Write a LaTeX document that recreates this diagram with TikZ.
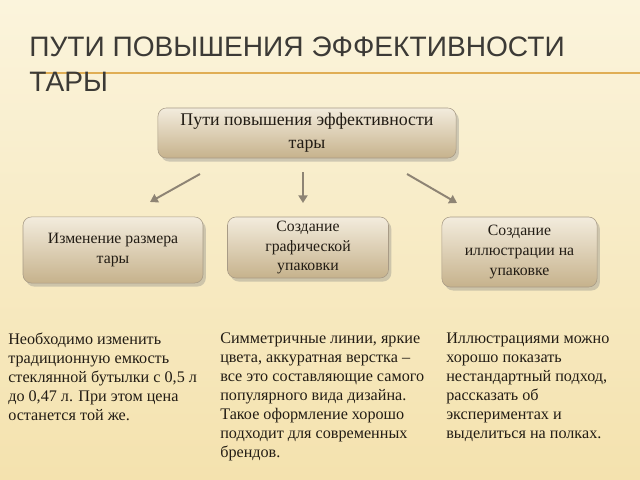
\documentclass[tikz,border=0pt]{standalone}
\usepackage{fontspec}
\setmainfont{Liberation Serif}
\newfontfamily\titlefont{Liberation Sans}
\usetikzlibrary{shadows,arrows.meta}
\definecolor{bgtop}{HTML}{FBF4DC}
\definecolor{bgbot}{HTML}{F4E2AE}
\definecolor{rule}{HTML}{E0AE55}
\definecolor{boxtop}{HTML}{F3ECDD}
\definecolor{boxbot}{HTML}{C6B28C}
\definecolor{boxline}{HTML}{A89B86}
\definecolor{arrgray}{HTML}{8E8474}
\definecolor{ink}{HTML}{221C14}
\definecolor{titleink}{HTML}{3C3A36}
\begin{document}
\begin{tikzpicture}[x=0.025cm,y=-0.025cm,
box/.style={draw=boxline,rounded corners=6pt,top color=boxtop,bottom color=boxbot,
  drop shadow={opacity=0.35,shadow xshift=2pt,shadow yshift=-2.5pt},
  align=center,text=ink,inner sep=0pt},
arr/.style={draw=arrgray,line width=1.4pt,-{Triangle[length=5.5pt,width=6.5pt]}},
note/.style={anchor=north west,align=left,inner sep=0pt,text=ink,
  font=\fontsize{11.5}{13.4}\selectfont}
]
\useasboundingbox (0,0) rectangle (640,480);
\fill[top color=bgtop,bottom color=bgbot] (0,0) rectangle (640,480);
\draw[rule,line width=0.8pt] (33,73) -- (640,73);
\node[anchor=north west,align=left,inner sep=0pt,text=titleink,
  font=\titlefont\fontsize{20}{24.5}\selectfont] (title) at (29,37)
  {ПУТИ ПОВЫШЕНИЯ ЭФФЕКТИВНОСТИ\\ТАРЫ};

\node[box,minimum width=212pt,minimum height=35.6pt,font=\fontsize{12.7}{16.4}\selectfont]
  (root) at (307,133) {\raisebox{-2pt}{\parbox{200pt}{\centering Пути повышения эффективности\\тары}}};

\node[box,minimum width=128pt,minimum height=47pt,font=\fontsize{11.2}{14.2}\selectfont]
  (size) at (113,250) {Изменение размера\\тары};
\node[box,minimum width=114.5pt,minimum height=43.4pt,font=\fontsize{11.2}{14.2}\selectfont]
  (graph) at (308,247.5) {Создание\\графической\\упаковки};
\node[box,minimum width=110.3pt,minimum height=49.8pt,font=\fontsize{11.2}{14.2}\selectfont]
  (illus) at (519.5,252) {Создание\\иллюстрации на\\упаковке};

\coordinate (l1) at (200,174);
\coordinate (l2) at (150,202);
\coordinate (m1) at (303,172);
\coordinate (m2) at (303,203);
\coordinate (r1) at (407,174);
\coordinate (r2) at (457,203);
\draw[arr] (l1) -- (l2);
\draw[arr] (m1) -- (m2);
\draw[arr] (r1) -- (r2);

\node[note] (sizetext) at (8,333) {Необходимо изменить\\традиционную емкость\\стеклянной бутылки с 0,5 л\\до 0,47 л. При этом цена\\останется той же.};
\node[note] (graphtext) at (220,333) {Симметричные линии, яркие\\цвета, аккуратная верстка –\\все это составляющие самого\\популярного вида дизайна.\\Такое оформление хорошо\\подходит для современных\\брендов.};
\node[note] (illustext) at (446,333) {Иллюстрациями можно\\хорошо показать\\нестандартный подход,\\рассказать об\\экспериментах и\\выделиться на полках.};
\end{tikzpicture}
\end{document}
